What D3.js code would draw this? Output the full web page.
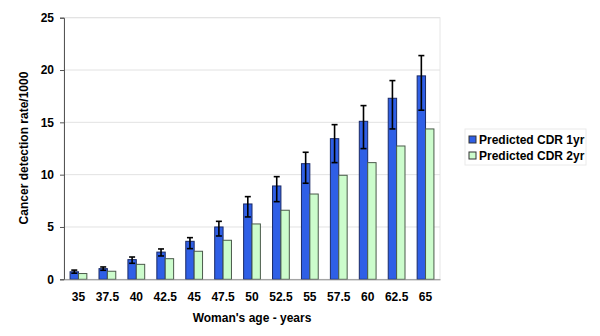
<!DOCTYPE html>
<html><head><meta charset="utf-8">
<script src="https://cdn.jsdelivr.net/npm/d3@7"></script>
<style>body{margin:0;background:#fff}svg{display:block}text{font-family:"Liberation Sans",Arial,sans-serif;font-weight:bold;fill:#000}</style>
</head><body><svg id="c" width="600" height="336"></svg>
<script>
const categories = ["35","37.5","40","42.5","45","47.5","50","52.5","55","57.5","60","62.5","65"];
const cdr1yr = [0.72,1.02,1.88,2.6,3.63,5.0,7.2,8.92,11.05,13.44,15.1,17.3,19.44];
const cdr2yr = [0.55,0.77,1.43,1.97,2.68,3.73,5.29,6.6,8.15,9.94,11.15,12.74,14.37];
const err1yrHigh = [0.88,1.18,2.13,2.9,3.98,5.54,7.9,9.81,12.14,14.78,16.6,18.99,21.38];
const err1yrLow = [0.58,0.86,1.53,2.23,2.93,4.14,5.96,7.42,9.18,11.15,12.49,14.37,16.16];
const seriesNames = ["Predicted CDR 1yr","Predicted CDR 2yr"];
const yTicks = [0,5,10,15,20,25];

const svg = d3.select("#c");
const m = {l:64,r:440,t:17.7,b:279.3};
const x = d3.scaleBand().domain(categories).range([m.l,m.r]).paddingInner(0.42).paddingOuter(0.21);
const x1 = d3.scaleBand().domain([0,1]).range([0,x.bandwidth()]);
const y = d3.scaleLinear().domain([0,25]).range([m.b,m.t]);
const colors = ["#2f5fe6","#ccfccc"];

// plot border/grid
svg.append("rect").attr("x",m.l).attr("y",m.t).attr("width",m.r-m.l).attr("height",m.b-m.t)
  .attr("fill","none").attr("stroke","#e6e6e6");
svg.append("g").selectAll("line").data(yTicks.slice(1)).join("line")
  .attr("x1",m.l).attr("x2",m.r).attr("y1",d=>y(d)).attr("y2",d=>y(d)).attr("stroke","#e2e2e2");

const g = svg.append("g").selectAll("g").data(categories).join("g")
  .attr("transform",d=>`translate(${x(d)},0)`);
g.append("rect").attr("x",x1(0)).attr("width",x1.bandwidth())
  .attr("y",(d,i)=>y(cdr1yr[i])).attr("height",(d,i)=>y(0)-y(cdr1yr[i]))
  .attr("fill",colors[0]).attr("stroke","#1a2a66").attr("stroke-width",1);
g.append("rect").attr("x",x1(1)).attr("width",x1.bandwidth())
  .attr("y",(d,i)=>y(cdr2yr[i])).attr("height",(d,i)=>y(0)-y(cdr2yr[i]))
  .attr("fill",colors[1]).attr("stroke","#4a5a4a").attr("stroke-width",1);
// error bars
const ex = x1(0)+x1.bandwidth()/2;
g.append("line").attr("x1",ex).attr("x2",ex).attr("y1",(d,i)=>y(err1yrHigh[i])).attr("y2",(d,i)=>y(err1yrLow[i]))
  .attr("stroke","#000").attr("stroke-width",1.6);
g.append("line").attr("x1",ex-3).attr("x2",ex+3).attr("y1",(d,i)=>y(err1yrHigh[i])).attr("y2",(d,i)=>y(err1yrHigh[i]))
  .attr("stroke","#000").attr("stroke-width",1.6);
g.append("line").attr("x1",ex-3).attr("x2",ex+3).attr("y1",(d,i)=>y(err1yrLow[i])).attr("y2",(d,i)=>y(err1yrLow[i]))
  .attr("stroke","#000").attr("stroke-width",1.6);

// axes
const ya = svg.append("g").attr("transform",`translate(${m.l},0)`)
  .call(d3.axisLeft(y).tickValues(yTicks).tickSize(4).tickPadding(6));
ya.select(".domain").attr("stroke","#555");
ya.selectAll(".tick line").attr("stroke","#555");
ya.selectAll("text").attr("font-size",12).style("font-family","Liberation Sans, Arial").style("font-weight","bold");
const xa = svg.append("g").attr("transform",`translate(0,${m.b})`)
  .call(d3.axisBottom(x).tickSize(0).tickPadding(13));
xa.select(".domain").attr("stroke","#888");
xa.selectAll("text").attr("font-size",12).style("font-family","Liberation Sans, Arial").style("font-weight","bold");

svg.append("text").attr("x",252).attr("y",322).attr("text-anchor","middle").attr("font-size",12).text("Woman's age - years");
svg.append("text").attr("transform","translate(28,148) rotate(-90)").attr("text-anchor","middle").attr("font-size",12).text("Cancer detection rate/1000");

// legend
const lg = svg.append("g");
lg.append("rect").attr("x",465).attr("y",129).attr("width",121).attr("height",36).attr("fill","#fff").attr("stroke","#eaeaea");
seriesNames.forEach((s,i)=>{
  lg.append("rect").attr("x",469).attr("y",136+i*16).attr("width",7).attr("height",7)
    .attr("fill",colors[i]).attr("stroke","#333");
  lg.append("text").attr("x",479).attr("y",144+i*16).attr("font-size",12).text(s);
});
</script></body></html>
